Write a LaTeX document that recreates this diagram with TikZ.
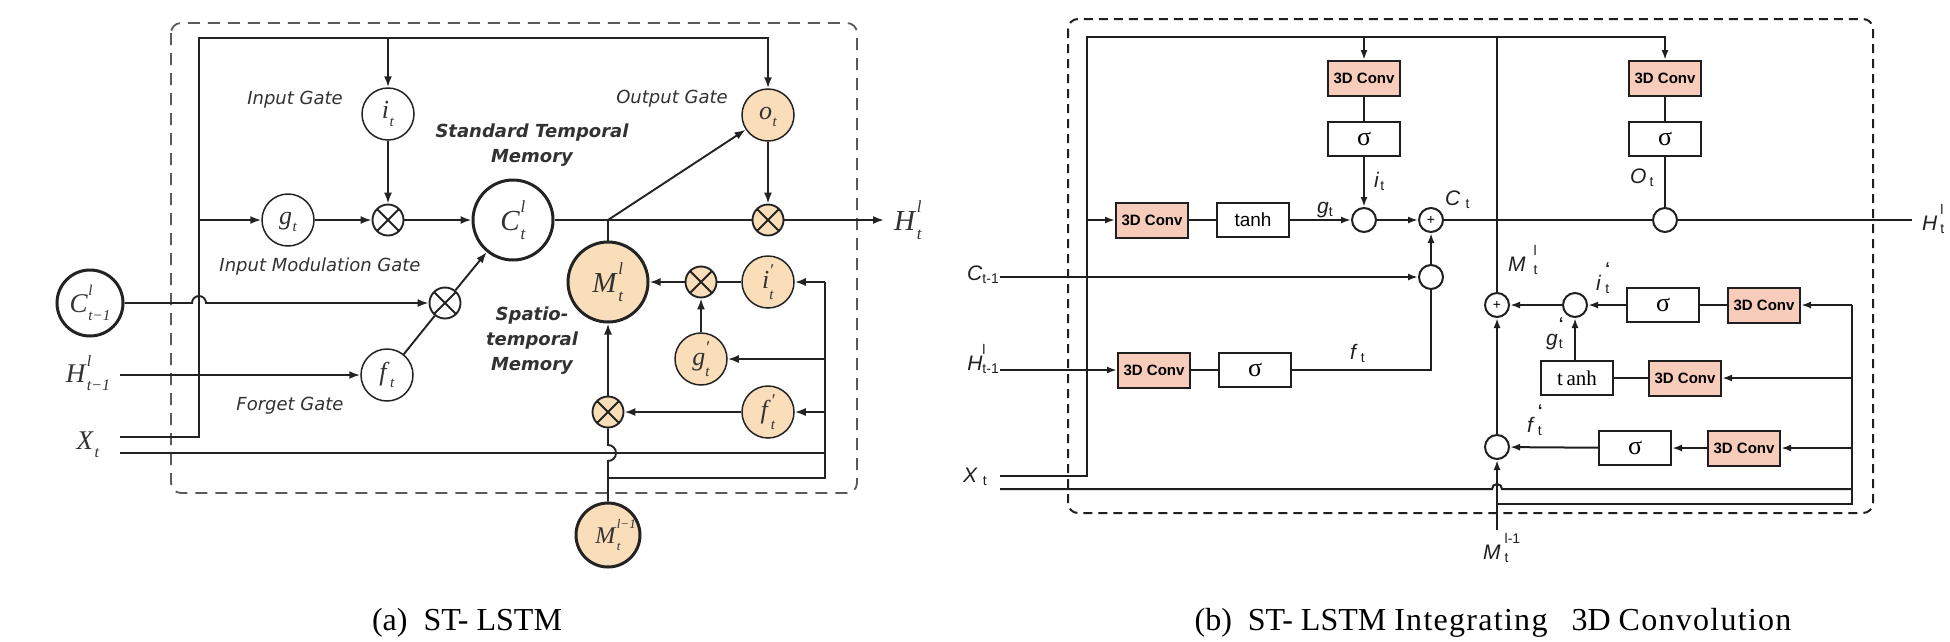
\documentclass[tikz,border=0pt]{standalone}
\usepackage{fontspec}
\setmainfont{Liberation Serif}
\setsansfont{Liberation Sans}
\newfontfamily\dvs{DejaVu Sans}
\usetikzlibrary{arrows.meta}
\definecolor{orA}{RGB}{250,222,186}
\definecolor{pkB}{RGB}{247,204,186}
\definecolor{lnA}{RGB}{35,35,35}
\definecolor{txA}{RGB}{50,50,50}
\definecolor{dsA}{RGB}{90,90,90}
\newcommand{\fs}[1]{\fontsize{#1}{#1}\selectfont}
\newcommand{\sfl}[4][1pt]{\textit{#2}\kern#1\rlap{\raisebox{0.72em}{\fs{14}#4}}\raisebox{-0.18em}{\fs{14}#3}}
\newcommand{\tml}[4][15]{\textit{#2}\kern0.5pt\rlap{\raisebox{0.62em}{\fs{#1}\textit{#4}}}\raisebox{-0.3em}{\fs{#1}\textit{#3}}}
\newcommand{\tmp}[2]{\textit{#1}\rlap{\kern1pt\raisebox{0.46em}{\fs{18}′}}\raisebox{-0.42em}{\fs{15}\textit{#2}}}
\tikzset{
  A/.style={line width=1.9pt, draw=lnA},
  arA/.style={A, -{Latex[length=11pt,width=8pt]}},
  cA/.style={circle, draw=lnA, line width=1.5pt, minimum size=52pt, inner sep=0pt, font=\fs{26}, text=txA},
  cAo/.style={cA, fill=orA},
  bigA/.style={circle, draw=lnA, line width=3pt, minimum size=80pt, inner sep=0pt, font=\fs{29}, text=txA},
  xA/.style={circle, draw=lnA, line width=1.9pt, minimum size=31pt, inner sep=0pt,
    path picture={\draw[line width=1.8pt, draw=lnA]
      ([shift={(-12pt,-12pt)}]path picture bounding box.center) -- ([shift={(12pt,12pt)}]path picture bounding box.center)
      ([shift={(-12pt,12pt)}]path picture bounding box.center) -- ([shift={(12pt,-12pt)}]path picture bounding box.center);}},
  tA/.style={font=\dvs\itshape\fs{18}, text=txA, inner sep=0pt},
  tAb/.style={font=\dvs\bfseries\itshape\fontsize{18}{25}\selectfont, text=txA, align=center, inner sep=0pt},
  mA/.style={font=\fs{27}, text=txA, inner sep=0pt},
  B/.style={line width=2pt, draw=black!88},
  arB/.style={B, -{Latex[length=10pt,width=7pt]}},
  conv/.style={draw=black!88, line width=2pt, fill=pkB, minimum width=72pt, minimum height=35pt, inner sep=0pt, font=\sffamily\bfseries\fs{15}},
  fnb/.style={draw=black!88, line width=2pt, fill=white, minimum width=72pt, minimum height=34pt, inner sep=0pt},
  dotB/.style={circle, draw=black!88, line width=2pt, fill=white, minimum size=24pt, inner sep=0pt,
    path picture={\fill (path picture bounding box.center) circle[radius=0.7pt];}},
  plusB/.style={circle, draw=black!88, line width=2pt, fill=white, minimum size=24pt, inner sep=0pt, font=\sffamily\fs{14}},
  lB/.style={font=\sffamily\fs{21}, inner sep=0pt, text=black!88},
  captxt/.style={font=\fs{32}, inner sep=0pt},
}
\begin{document}
\begin{tikzpicture}[x=1pt,y=-1pt]
\useasboundingbox (0,0) rectangle (1950,641);
\fill[white] (0,0) rectangle (1950,641);

% ================= Panel (a) =================
\draw[dsA, line width=1.8pt, dash pattern=on 12pt off 8pt, rounded corners=10pt] (171,23) rectangle (857,493);

\node[circle, draw=lnA, line width=3pt, minimum size=66pt, inner sep=0pt, font=\fs{27}, text=txA] (Cprev) at (90,303) {\tml{C}{t−1}{l}};
\node[cA] (it) at (388,114) {\tml{i}{t}{}};
\node[cA] (gt) at (288,220) {\tml{g}{t}{}};
\node[cA] (ft) at (387,375) {\tml{f}{t}{}};
\node[xA] (x1) at (388,220) {};
\node[xA] (x2) at (445,303) {};
\node[bigA] (Ct) at (513,220) {\tml[17]{C}{t}{l}};
\node[cAo] (ot) at (768,115) {\tml{o}{t}{}};
\node[xA, fill=orA] (x3) at (768,220) {};
\node[bigA, fill=orA] (Mt) at (608,282) {\tml[17]{M}{t}{l}};
\node[xA, fill=orA] (x4) at (701,282) {};
\node[cAo] (ipt) at (768,282) {\tmp{i}{t}};
\node[cAo] (gpt) at (701,359) {\tmp{g}{t}};
\node[cAo] (fpt) at (768,412) {\tmp{f}{t}};
\node[xA, fill=orA] (x5) at (608,412) {};
\node[circle, draw=lnA, line width=3pt, minimum size=64pt, inner sep=0pt, font=\fs{24}, text=txA, fill=orA] (Mprev) at (608,535) {\tml[13]{M}{t}{l−1}\hspace{10pt}};

\coordinate (aX1) at (120,437);
\coordinate (aX2) at (120,453);
\coordinate (aH1) at (120,375);
\coordinate (aTL) at (199,38);
\coordinate (aTi) at (388,38);
\coordinate (aGi) at (199,220);
\coordinate (aJ) at (608,220);
\coordinate (aHo) at (884,220);
\coordinate (aR1) at (825,282);
\coordinate (aR2) at (825,359);
\coordinate (aR3) at (825,412);
\coordinate (aR4) at (825,478);
\coordinate (aR5) at (825,453);
\coordinate (aM4) at (608,478);

\draw[arA] (aX1) -| (aTL) -| (ot);
\draw[arA] (aTi) -- (it);
\draw[arA] (it) -- (x1);
\draw[arA] (aGi) -- (gt);
\draw[arA] (gt) -- (x1);
\draw[arA] (x1) -- (Ct);
\draw[arA] (Cprev) -- (192,303) arc[start angle=180, end angle=0, radius=7pt] -- (x2);
\draw[arA] (aH1) -- (ft);
\draw[A] (ft) -- (x2);
\draw[arA] (x2) -- (Ct);
\draw[A] (Ct) -- (x3);
\draw[arA] (aJ) -- (ot);
\draw[A] (aJ) -- (Mt);
\draw[arA] (ot) -- (x3);
\draw[arA] (x3) -- (aHo);
\draw[A] (ipt) -- (x4);
\draw[arA] (x4) -- (Mt);
\draw[arA] (gpt) -- (x4);
\draw[arA] (aR1) -- (ipt);
\draw[arA] (aR2) -- (gpt);
\draw[arA] (aR3) -- (fpt);
\draw[arA] (fpt) -- (x5);
\draw[arA] (x5) -- (Mt);
\draw[A] (Mprev) -- (608,461) arc[start angle=-90, end angle=90, radius=8pt] -- (x5);
\draw[A] (aX2) -- (aR5);
\draw[A] (aM4) -- (aR4) -- (aR1);

\node[tA] (lIG) at (295,100) {Input Gate};
\node[tA] (lIMG) at (320,267) {Input Modulation Gate};
\node[tA] (lFG) at (290,406) {Forget Gate};
\node[tA] (lOG) at (672,99) {Output Gate};
\node[tAb] (lSTM) at (532,145) {Standard Temporal\\Memory};
\node[tAb] (lSPM) at (532,341) {Spatio-\\temporal\\Memory};
\node[mA] (lHp) at (88,373) {\tml[16]{H}{t−1}{l}\hspace{10pt}};
\node[mA] (lXt) at (88,445) {\tml[16]{X}{t}{}};
\node[mA, font=\fs{29}] (lHt) at (908,220) {\tml[17]{H}{t}{l}};

\node[captxt] (capA) at (467,623) {(a)\ \ ST- LSTM};

% ================= Panel (b) =================
\draw[black!88, line width=2pt, dash pattern=on 9pt off 6pt, rounded corners=10pt] (1068,19) rectangle (1873,513);

\node[conv] (ci) at (1364,78.5) {3D Conv};
\node[fnb, font=\fs{26}] (si) at (1364,139) {σ};
\node[conv] (co) at (1665,78.5) {3D Conv};
\node[fnb, font=\fs{26}] (so) at (1665,139) {σ};
\node[conv] (cg) at (1152,220) {3D Conv};
\node[fnb, font=\sffamily\fs{19}] (tg) at (1253,220) {tanh};
\node[conv] (cf) at (1154,370) {3D Conv};
\node[fnb, font=\fs{26}] (sf) at (1255,370) {σ};
\node[dotB] (d1) at (1364,220) {};
\node[plusB] (pC) at (1431,220) {+};
\node[dotB] (d2) at (1431,277) {};
\node[dotB] (d3) at (1665,220) {};
\node[plusB] (pM) at (1497,305) {+};
\node[dotB] (d4) at (1575,305) {};
\node[fnb, font=\fs{26}] (si2) at (1663,305) {σ};
\node[conv] (ci2) at (1764,305) {3D Conv};
\node[fnb, font=\fs{21}] (tg2) at (1577,378) {t\,anh};
\node[conv] (cg2) at (1685,378) {3D Conv};
\node[dotB] (d5) at (1497,447) {};
\node[fnb, font=\fs{26}] (sf2) at (1635,448) {σ};
\node[conv] (cf2) at (1744,448) {3D Conv};

\coordinate (bX1) at (1000,476);
\coordinate (bX2) at (1000,489);
\coordinate (bTL) at (1087,37);
\coordinate (bTi) at (1364,37);
\coordinate (bTM) at (1497,37);
\coordinate (bGi) at (1087,220);
\coordinate (bHo) at (1912,220);
\coordinate (bC1) at (1000,277);
\coordinate (bH1) at (1000,370);
\coordinate (bR1) at (1852,305);
\coordinate (bR2) at (1852,378);
\coordinate (bR3) at (1852,448);
\coordinate (bR4) at (1852,504);
\coordinate (bR5) at (1852,489);
\coordinate (bM4) at (1497,504);
\coordinate (bMin) at (1497,530);

\draw[arB] (bX1) -| (bTL) -| (co);
\draw[arB] (bTi) -- (ci);
\draw[B] (ci) -- (si);
\draw[arB] (si) -- (d1);
\draw[B] (bTM) -- (pM);
\draw[B] (co) -- (so);
\draw[B] (so) -- (d3);
\draw[arB] (bGi) -- (cg);
\draw[B] (cg) -- (tg);
\draw[arB] (tg) -- (d1);
\draw[arB] (d1) -- (pC);
\draw[B] (pC) -- (d3);
\draw[B] (d3) -- (bHo);
\draw[arB] (bC1) -- (d2);
\draw[arB] (d2) -- (pC);
\draw[arB] (bH1) -- (cf);
\draw[B] (cf) -- (sf);
\draw[B] (sf) -| (d2);
\draw[B] (bX2) -- (1492,489) arc[start angle=180, end angle=0, radius=5pt] -- (bR5);
\draw[B] (bM4) -- (bR4) -- (bR1);
\draw[arB] (bR1) -- (ci2);
\draw[B] (ci2) -- (si2);
\draw[arB] (si2) -- (d4);
\draw[arB] (d4) -- (pM);
\draw[arB] (bR2) -- (cg2);
\draw[B] (cg2) -- (tg2);
\draw[arB] (tg2.north -| d4) -- (d4);
\draw[arB] (bR3) -- (cf2);
\draw[arB] (cf2) -- (sf2);
\draw[arB] (sf2) -- (d5);
\draw[arB] (d5) -- (pM);
\draw[arB] (bMin) -- (d5);

\node[lB, anchor=base east] (lCp) at (999,280) {\sfl[0pt]{C}{t-1}{}};
\node[lB, anchor=base east] (lHp2) at (999,370) {\sfl[0pt]{H}{t-1}{l}};
\node[lB, anchor=base west] (lXt2) at (963,482) {\sfl[5pt]{X}{t}{}};
\node[lB, anchor=base west] (lgt) at (1317,213) {\sfl[0pt]{g}{t}{}};
\node[lB, anchor=base west] (lit) at (1374,187) {\sfl[1pt]{i}{t}{}};
\node[lB, anchor=base west] (lCt) at (1445,205) {\sfl[5pt]{C}{t}{}};
\node[lB, anchor=base west] (lOt) at (1630,183) {\sfl[3pt]{O}{t}{}};
\node[lB, anchor=base west] (lft) at (1350,359) {\sfl[3pt]{f}{t}{}};
\node[lB, anchor=base west] (lMt) at (1508,271) {\sfl[8pt]{M}{t}{l}};
\node[lB, anchor=base west] (lipt) at (1596,290) {\sfl[4pt]{i}{t}{\fs{17}\bfseries ‘}};
\node[lB, anchor=base west] (lgpt) at (1546,345) {\sfl[1pt]{g}{t}{\fs{17}\bfseries ‘}};
\node[lB, anchor=base west] (lfpt) at (1527,432) {\sfl[3pt]{f}{t}{\fs{17}\bfseries ‘}};
\node[lB, anchor=base west] (lMp) at (1483,559) {\sfl[4pt]{M}{t}{l-1}};
\node[lB, anchor=base west] (lHt2) at (1922,230) {\sfl[3pt]{H}{t}{l}};

\node[captxt] (capB) at (1493,623) {(b)\ \ ST- LSTM {\addfontfeature{LetterSpace=4}Integrating}\ \ \ 3D {\addfontfeature{LetterSpace=4}Convolution}};
\end{tikzpicture}
\end{document}
